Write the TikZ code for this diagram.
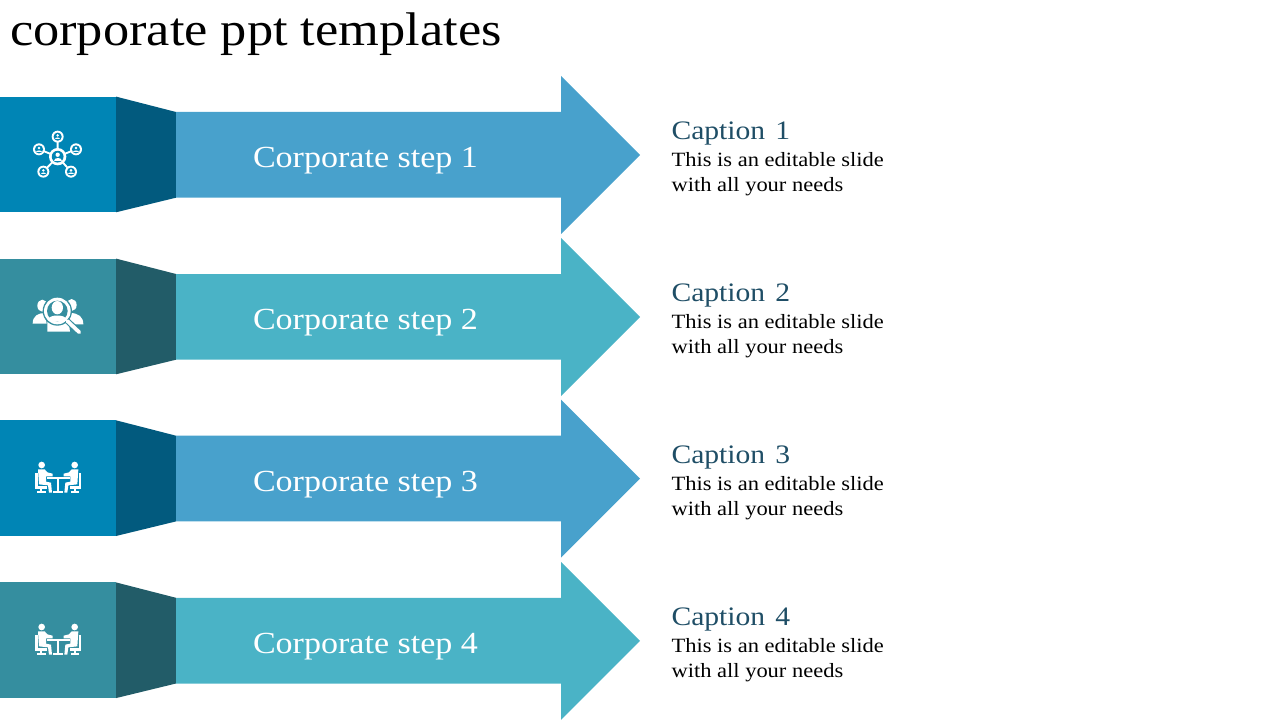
\documentclass[tikz,border=0pt]{standalone}
\usepackage{fontspec}
\setmainfont{Liberation Serif}
\newfontfamily\wideserif[FakeStretch=1.11]{Liberation Serif}
\definecolor{bandA}{HTML}{0085B5}
\definecolor{darkA}{HTML}{025A7E}
\definecolor{arrowA}{HTML}{48A1CC}
\definecolor{bandB}{HTML}{358E9F}
\definecolor{darkB}{HTML}{225C68}
\definecolor{arrowB}{HTML}{4AB3C6}
\definecolor{capcol}{HTML}{1F4E66}
\tikzset{
  txt/.style={inner sep=0pt,outer sep=0pt,anchor=base west},
  titletxt/.style={txt,font=\wideserif\fontsize{35.4}{38}\selectfont,text=black},
  steptxt/.style={txt,font=\wideserif\fontsize{23}{26}\selectfont,text=white},
  captxt/.style={txt,font=\wideserif\fontsize{20}{24}\selectfont,text=capcol},
  bodytxt/.style={txt,font=\wideserif\fontsize{15.2}{18}\selectfont,text=black},
}
% one row: #1 top offset, #2 band, #3 dark, #4 arrow, #5 number
\newcommand\rowshapes[5]{%
  \begin{scope}[yshift=-0.75*#1 pt]
    \fill[#2] (0,96.6) rectangle (116,212.3);
    \fill[#3] (116,96.6) -- (176,112) -- (176,197.7) -- (116,212.3) -- cycle;
    \fill[#4] (176,112) -- (561,112) -- (561,76) -- (640,155) -- (561,234) -- (561,197.7) -- (176,197.7) -- cycle;
    \node[steptxt] (step#5) at (253,167.5) {Corporate step #5};
    \node[captxt] (cap#5) at (671.5,139.5) {Caption\hspace{0.1em} #5};
    \node[bodytxt] (bodya#5) at (671.5,166.9) {This is an editable slide};
    \node[bodytxt] (bodyb#5) at (671.5,191.9) {with all your needs};
  \end{scope}}
% small person inside a ring
\newcommand\ringperson[5]{% x y ringR scale bg
  \fill[white] (#1,#2) circle[radius=#3];
  \fill[#5] (#1,#2) circle[radius=#3*0.68];
  \fill[white] (#1,#2-#4*3.0) circle[radius=#4*3.4];
  \fill[white] (#1-#4*6.5,#2+#4*6.5) .. controls (#1-#4*6.5,#2+#4*1) and (#1+#4*6.5,#2+#4*1) .. (#1+#4*6.5,#2+#4*6.5) -- cycle;}
\newcommand\iconnet[3]{%
  \begin{scope}[shift={(#1,#2)},x=0.25pt,y=-0.25pt]
    \draw[white,line width=1.4pt] (113,110) -- (113,50) (113,110) -- (57,88) (113,110) -- (168,88) (113,110) -- (70,155) (113,110) -- (153,155);
    \ringperson{113}{110}{26}{1.9}{#3}
    \ringperson{113}{50}{18}{1.25}{#3}
    \ringperson{57}{88}{18}{1.25}{#3}
    \ringperson{168}{88}{18}{1.25}{#3}
    \ringperson{70}{155}{18}{1.25}{#3}
    \ringperson{153}{155}{18}{1.25}{#3}
  \end{scope}}
\newcommand\iconsearch[3]{%
  \begin{scope}[shift={(#1,#2)},x=0.25pt,y=-0.25pt]
    % side persons
    \fill[white] (67,62) ellipse[x radius=15,y radius=18];
    \fill[white] (155,60) ellipse[x radius=15,y radius=18];
    \fill[white] (38,116) .. controls (38,92) and (55,84) .. (75,84) -- (80,116) -- cycle;
    \fill[white] (190,118) .. controls (190,95) and (175,84) .. (150,84) -- (145,118) -- cycle;
    % lower body
    \fill[white] (82,105) -- (145,105) -- (150,140) -- (82,140) -- cycle;
    % ring
    \fill[#3] (112,78) circle[radius=44];
    \fill[white] (112,78) circle[radius=40];
    \fill[#3] (112,78) circle[radius=31];
    \draw[#3,line width=4.4pt] (140,106) -- (170,134);
    \draw[white,line width=2.8pt,line cap=round] (142,108) -- (178,142);
    \fill[white] (112,68) ellipse[x radius=17,y radius=20];
    \fill[white] (85,102) .. controls (90,88) and (134,88) .. (139,102) .. controls (125,112) and (99,112) .. (85,102) -- cycle;
  \end{scope}}
\newcommand\halfmeet[1]{%
  \fill[white] (65,45) circle[radius=10];
  \fill[white] (54,58) -- (74,58) -- (82,67) -- (98,71) -- (98,79) -- (78,79) -- (78,95) -- (93,98) -- (96,128) -- (87,128) -- (84,106) -- (57,103) -- cycle;
  \fill[white] (46,68) rectangle (53,110);
  \fill[white] (46,109) rectangle (80,116);
  \fill[white] (60,116) rectangle (67,123);
  \fill[white] (52,123) rectangle (77,129);}
\newcommand\iconmeet[3]{%
  \begin{scope}[shift={(#1,#2)},x=0.25pt,y=-0.25pt]
    \halfmeet{#3}
    \begin{scope}[shift={(229,0)},xscale=-1]
      \halfmeet{#3}
    \end{scope}
    \fill[white] (80,82) rectangle (149,88);
    \fill[white] (111,88) rectangle (118,123);
    \fill[white] (100,123) rectangle (130,129);
  \end{scope}}
\begin{document}
\begin{tikzpicture}[x=0.75pt,y=-0.75pt]
  \useasboundingbox (0,0) rectangle (1280,720);
  \node[titletxt] (title) at (10,46) {corporate ppt templates};
  \rowshapes{0}{bandA}{darkA}{arrowA}{1}
  \rowshapes{162}{bandB}{darkB}{arrowB}{2}
  \rowshapes{323.7}{bandA}{darkA}{arrowA}{3}
  \rowshapes{485.8}{bandB}{darkB}{arrowB}{4}
  \iconnet{20}{120}{bandA}
  \iconsearch{20}{285}{bandB}
  \iconmeet{20}{450}{bandA}
  \iconmeet{20}{612}{bandB}
\end{tikzpicture}
\end{document}
